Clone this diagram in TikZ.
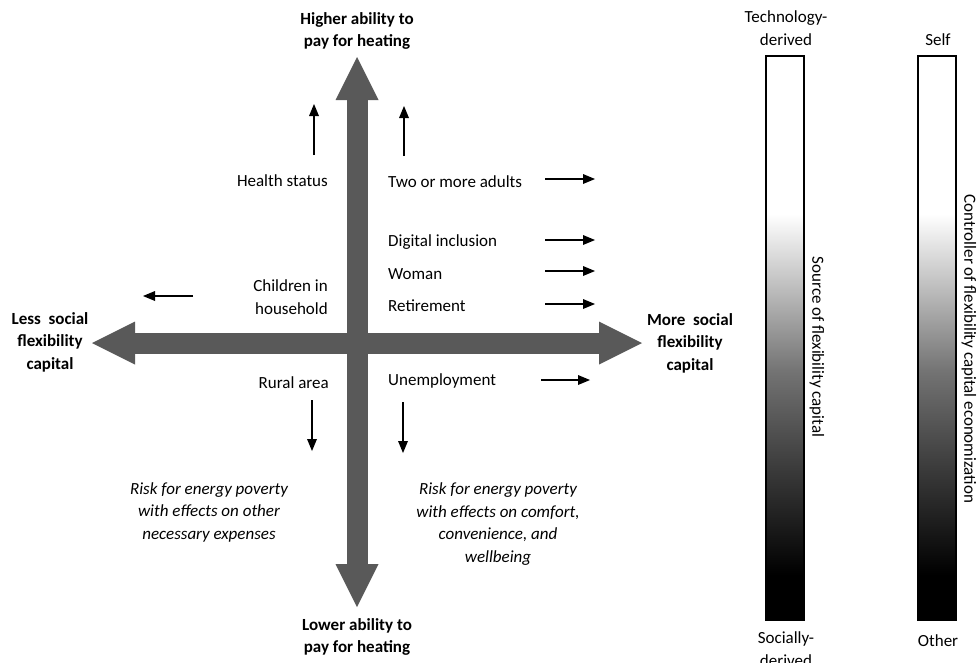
\documentclass[tikz,border=0pt]{standalone}
\usepackage{fontspec}
\setmainfont{Carlito}
\usetikzlibrary{arrows.meta}
\definecolor{axisgray}{RGB}{89,89,89}
\pgfdeclareverticalshading{barshade}{100bp}{color(0bp)=(black); color(29bp)=(black); color(38bp)=(black!78); color(47bp)=(black!55); color(61bp)=(white); color(100bp)=(white)}
\tikzset{
	label/.style={font=\fontsize{17}{22.5}\selectfont, inner sep=0pt, align=center},
	pole/.style={label, font=\fontsize{17}{22.5}\selectfont\bfseries},
	risk/.style={label, font=\fontsize{17}{22.5}\selectfont\itshape},
	axis/.style={draw=axisgray, line width=21pt, {Triangle[length=43pt,width=43pt,line width=0pt]}-{Triangle[length=43pt,width=43pt,line width=0pt]}},
	smallarrow/.style={draw=black, line width=1.2pt, -{Triangle[length=12pt,width=10pt,line width=0pt]}},
	bar/.style={draw=black, line width=1.8pt, shade, shading=barshade, minimum width=38pt, minimum height=564pt, inner sep=0pt}
}
\begin{document}
\begin{tikzpicture}[x=1pt, y=-1pt]
	\useasboundingbox (0,0) rectangle (977,662);
	% axes
	\coordinate (top) at (357,57);
	\coordinate (bottom) at (357,607);
	\coordinate (left) at (92,343);
	\coordinate (right) at (642,343);
	\draw[axis] (bottom) -- (top);
	\draw[axis] (left) -- (right);
	\node[pole] (higher) at (357,31) {Higher ability to\\pay for heating};
	\node[pole] (lower) at (357,637) {Lower ability to\\pay for heating};
	\node[pole] (less) at (50,342) {Less~ social\\flexibility\\capital};
	\node[pole] (more) at (690,343) {More~ social\\flexibility\\capital};

	% factors
	\node[label, anchor=east] (health) at (328,181) {Health status};
	\node[label, anchor=east, align=right] (children) at (328,297) {Children in\\household};
	\node[label, anchor=east] (rural) at (329,383) {Rural area};
	\node[label, anchor=west] (adults) at (388,182) {Two or more adults};
	\node[label, anchor=west] (digital) at (388,242) {Digital inclusion};
	\node[label, anchor=west] (woman) at (388,274) {Woman};
	\node[label, anchor=west] (retire) at (388,306) {Retirement};
	\node[label, anchor=west] (unemp) at (388,381) {Unemployment};

	\coordinate (healthA) at (314,155);
	\coordinate (healthB) at (314,104);
	\coordinate (adultsUpA) at (404,156);
	\coordinate (adultsUpB) at (404,106);
	\coordinate (childrenA) at (193,296);
	\coordinate (childrenB) at (143,296);
	\coordinate (ruralA) at (312,400);
	\coordinate (ruralB) at (312,451);
	\coordinate (unempDownA) at (403,402);
	\coordinate (unempDownB) at (403,453);
	\coordinate (unempA) at (541,380);
	\coordinate (unempB) at (590,380);
	\draw[smallarrow] (healthA) -- (healthB);
	\draw[smallarrow] (adultsUpA) -- (adultsUpB);
	\draw[smallarrow] (childrenA) -- (childrenB);
	\draw[smallarrow] (ruralA) -- (ruralB);
	\draw[smallarrow] (unempDownA) -- (unempDownB);
	\draw[smallarrow] (unempA) -- (unempB);
	\foreach \n/\y in {adults/179, digital/240, woman/271, retire/304} {
		\coordinate (\n A) at (545,\y);
		\coordinate (\n B) at (595,\y);
		\draw[smallarrow] (\n A) -- (\n B);
	}

	% outcomes
	\node[risk] (riskother) at (209,512) {Risk for energy poverty\\with effects on other\\necessary expenses};
	\node[risk] (riskcomfort) at (498,524) {Risk for energy poverty\\with effects on comfort,\\convenience, and\\wellbeing};

	% gradient bars
	\node[bar] (sourcebar) at (785,338) {};
	\node[bar] (ctrlbar) at (937,338) {};
	\node[label] (tech) at (786,28) {Technology-\\derived};
	\node[label] (social) at (786,649) {Socially-\\derived};
	\node[label] (self) at (938,40) {Self};
	\node[label] (other) at (938,641) {Other};
	\node[label, rotate=-90] (source) at (817,347) {Source of flexibility capital};
	\node[label, rotate=-90] (ctrl) at (969,349) {Controller of flexibility capital economization};
\end{tikzpicture}
\end{document}
